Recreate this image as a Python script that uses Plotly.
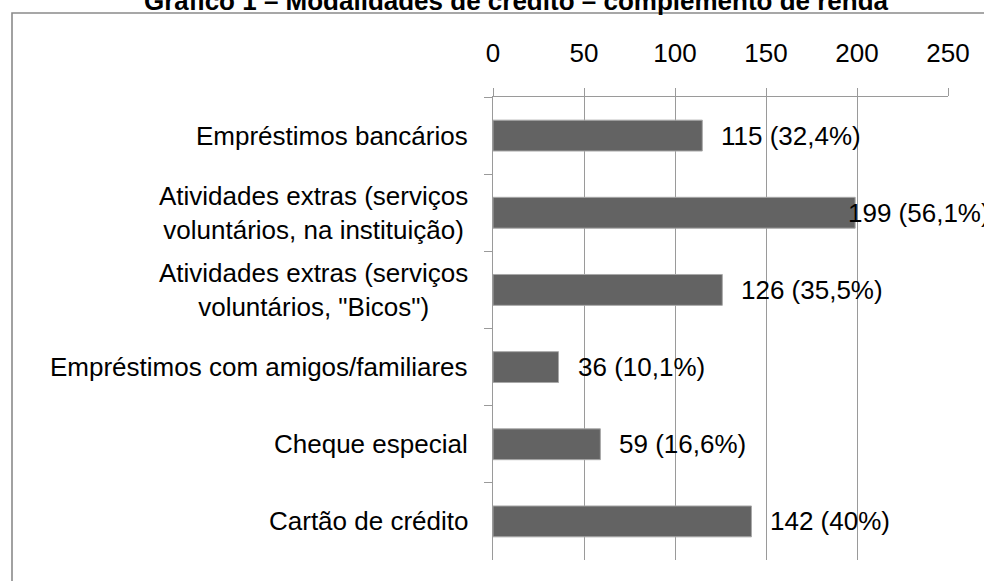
import plotly.graph_objects as go

# ---- data ----
categories = [
    "Empréstimos bancários",
    "Atividades extras (serviços<br>voluntários, na instituição)",
    "Atividades extras (serviços<br>voluntários, \"Bicos\")",
    "Empréstimos com amigos/familiares",
    "Cheque especial",
    "Cartão de crédito",
]
values = [115, 199, 126, 36, 59, 142]
percents = ["32,4%", "56,1%", "35,5%", "10,1%", "16,6%", "40%"]
x_ticks = [0, 50, 100, 150, 200, 250]
title_text = "Gráfico 1 – Modalidades de crédito – complemento de renda"

# ---- style ----
FONT = "Liberation Sans, Arial, sans-serif"
FS = 26
GRAY = "#9a9a9a"
W, H = 984, 581
ML, MR, MT, MB = 493, 36, 97, 21
XMAX = 250
plot_w = W - ML - MR
LABEL_GAP = 17
CHART_RIGHT = 988
CHAR_W = 12.9

fig = go.Figure()
fig.add_trace(go.Bar(
    x=values, y=categories, orientation="h",
    marker=dict(color="#636363", line=dict(color="#a8a8a8", width=1)),
    width=0.4, hoverinfo="skip",
))

annotations = []
# category labels (centered multi-line, right-aligned block)
for c in categories:
    annotations.append(dict(
        x=0, xref="paper", y=c, yref="y", text=c, showarrow=False,
        xanchor="right", yanchor="middle", align="center", xshift=-23,
        font=dict(family=FONT, size=FS, color="#000"),
    ))
# data labels
for c, v, p in zip(categories, values, percents):
    txt = f"{v} ({p})"
    end_px = ML + v / XMAX * plot_w
    est_w = len(txt) * CHAR_W
    shift = LABEL_GAP
    if end_px + shift + est_w > CHART_RIGHT:
        shift = CHART_RIGHT - est_w - end_px
    annotations.append(dict(
        x=v, xref="x", y=c, yref="y", text=txt,
        showarrow=False, xanchor="left", yanchor="middle", xshift=shift,
        font=dict(family=FONT, size=FS, color="#000"),
    ))

fig.update_layout(
    width=W, height=H,
    margin=dict(l=ML, r=MR, t=MT, b=MB, pad=0),
    paper_bgcolor="white", plot_bgcolor="white",
    showlegend=False,
    bargap=0.6,
    font=dict(family=FONT, size=FS, color="#000"),
    title=dict(
        text=f"<b>{title_text}</b>", x=516 / W, xref="container", xanchor="center",
        y=1 - 1 / H, yref="container", yanchor="middle",
        font=dict(family=FONT, size=26, color="#000"),
    ),
    xaxis=dict(
        side="top", range=[0, XMAX], tickvals=x_ticks,
        showgrid=True, gridcolor=GRAY, gridwidth=1,
        ticks="outside", ticklen=8, tickcolor=GRAY, tickwidth=1,
        showline=True, linecolor=GRAY, linewidth=1,
        zeroline=False, fixedrange=True,
        tickfont=dict(family=FONT, size=FS, color="#000"),
        ticklabelstandoff=16,
    ),
    yaxis=dict(
        type="category", categoryorder="array", categoryarray=categories,
        autorange="reversed", showticklabels=False,
        tickson="boundaries", ticks="outside", ticklen=8, tickcolor=GRAY, tickwidth=1,
        showline=True, linecolor=GRAY, linewidth=1,
        showgrid=False, zeroline=False, fixedrange=True,
    ),
    annotations=annotations,
    shapes=[dict(
        type="rect", xref="paper", yref="paper",
        x0=(12 - ML) / plot_w, x1=1.3,
        y0=-0.3, y1=(H - MB - 13) / (H - MT - MB),
        line=dict(color="#8a8a8a", width=1.6), layer="below",
    )],
)

fig.write_html(
    "out.html",
    config={"displayModeBar": False, "staticPlot": True},
    post_script="document.body.style.margin='0';document.body.style.overflow='hidden';",
)
